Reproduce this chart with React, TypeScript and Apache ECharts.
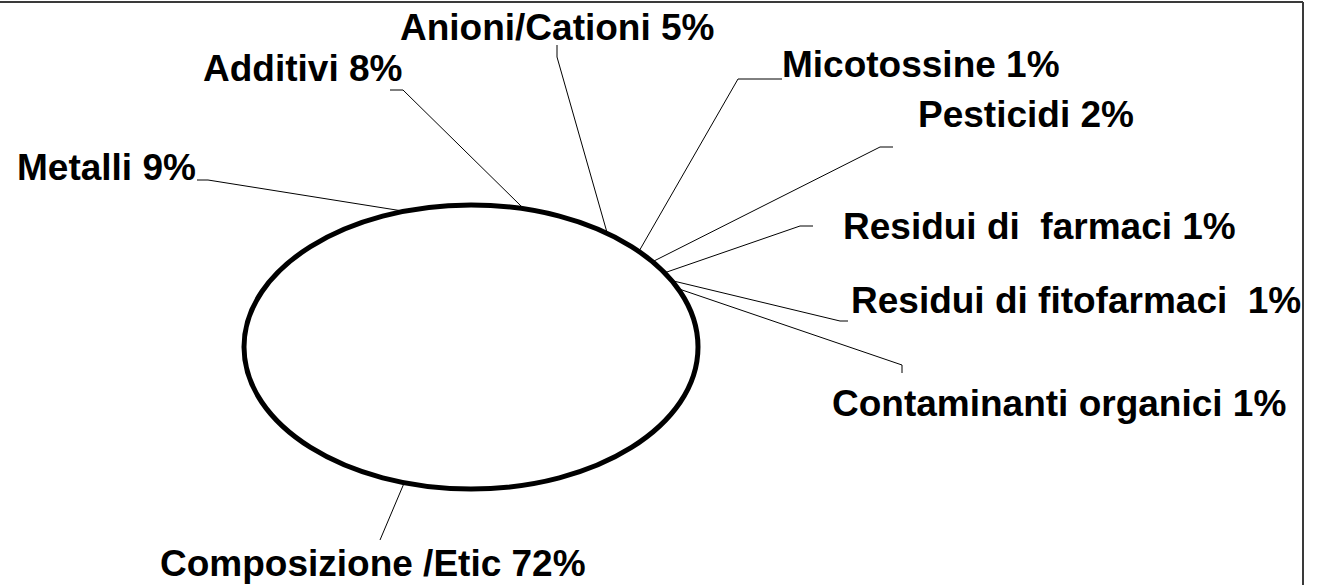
import React, { useEffect, useRef } from "react";
import * as echarts from "echarts";

// ---- data ----
const categories = [
  "Composizione /Etic",
  "Metalli",
  "Additivi",
  "Anioni/Cationi",
  "Micotossine",
  "Pesticidi",
  "Residui di  farmaci",
  "Residui di fitofarmaci ",
  "Contaminanti organici",
];
const values = [72, 9, 8, 5, 1, 2, 1, 1, 1];

// ---- layout (label anchors: left x, middle y) ----
const labelAnchors = [
  [160, 563],
  [17, 167],
  [203, 68],
  [400, 27],
  [782, 64],
  [918, 114],
  [843, 226],
  [851, 300],
  [832, 403],
];
// leader line elbows, from the label side toward the ellipse
const leaderElbows = [
  [[380, 540]],
  [[197, 180], [208, 180]],
  [[390, 90], [403, 90]],
  [[557, 45], [557, 57]],
  [[782, 79], [738, 79]],
  [[893, 147], [880, 147]],
  [[813, 226], [800, 226]],
  [[848, 321], [840, 321]],
  [[902, 373], [902, 365]],
];

const CX = 471;
const CY = 347;
const RX = 227;
const RY = 142;
const START_DEG = -22.5; // clockwise from 3 o'clock
const FONT = '"Liberation Sans", Arial, Helvetica, sans-serif';

export default function App() {
  const ref = useRef<HTMLDivElement>(null);
  useEffect(() => {
    if (!ref.current) return;
    const chart = echarts.init(ref.current, undefined, { renderer: "svg" });
    const total = values.reduce((a, b) => a + b, 0);
    const pt = (deg: number) => {
      const r = (deg * Math.PI) / 180;
      return [CX + RX * Math.cos(r), CY + RY * Math.sin(r)];
    };
    chart.setOption({
      animation: false,
      backgroundColor: "#ffffff",
      graphic: [
        {
          type: "line",
          shape: { x1: 0, y1: 2, x2: 1303, y2: 2 },
          style: { stroke: "#3a3a3a", lineWidth: 2 },
          silent: true,
        },
        {
          type: "line",
          shape: { x1: 1303, y1: 2, x2: 1303, y2: 585 },
          style: { stroke: "#3a3a3a", lineWidth: 2 },
          silent: true,
        },
      ],
      series: [
        {
          type: "custom",
          coordinateSystem: "none",
          silent: true,
          data: values.map((v, i) => ({ value: [v], name: categories[i] })),
          renderItem: (params: any, api: any) => {
            const i = params.dataIndex;
            const v = api.value(0) as number;
            let before = 0;
            for (let k = 0; k < i; k++) before += values[k];
            const a0 = START_DEG + (before / total) * 360;
            const a1 = a0 + (v / total) * 360;
            const mid = (a0 + a1) / 2;
            const pts: number[][] = [[CX, CY]];
            const steps = Math.max(4, Math.ceil((a1 - a0) / 2));
            for (let s = 0; s <= steps; s++) pts.push(pt(a0 + ((a1 - a0) * s) / steps));
            const pct = Math.round((v / total) * 100);
            const leader = [...leaderElbows[i], pt(mid)];
            const children: any[] = [
              {
                type: "polygon",
                shape: { points: pts },
                style: { fill: "#ffffff", stroke: null },
                z2: 0,
              },
              {
                type: "polyline",
                shape: { points: leader },
                style: { stroke: "#000000", lineWidth: 1, fill: null },
                z2: 5,
              },
              {
                type: "text",
                style: {
                  text: `${categories[i]} ${pct}%`,
                  x: labelAnchors[i][0],
                  y: labelAnchors[i][1],
                  fill: "#000000",
                  fontSize: 37,
                  fontWeight: "bold",
                  fontFamily: FONT,
                  align: "left",
                  verticalAlign: "middle",
                },
                z2: 6,
              },
            ];
            if (i === values.length - 1) {
              children.push({
                type: "ellipse",
                shape: { cx: CX, cy: CY, rx: RX, ry: RY },
                style: { fill: null, stroke: "#000000", lineWidth: 5 },
                z2: 10,
              });
            }
            return { type: "group", children };
          },
        },
      ],
    });
    return () => chart.dispose();
  }, []);
  return (
    <div
      ref={ref}
      style={{ position: "fixed", left: 0, top: 0, width: 1322, height: 585, background: "#fff" }}
    />
  );
}
